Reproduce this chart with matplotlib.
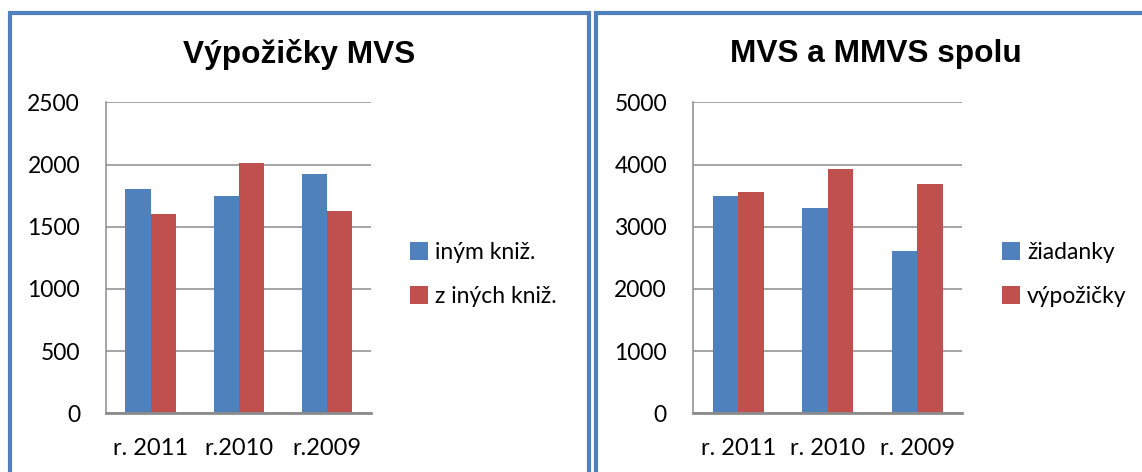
import matplotlib
matplotlib.use("Agg")
import matplotlib.pyplot as plt
from matplotlib.patches import Rectangle
import numpy as np

# Data
left_title = "Výpožičky MVS"
left_categories = ["r. 2011", "r.2010", "r.2009"]
left_series_names = ["iným kniž.", "z iných kniž."]
left_inym = [1800, 1750, 1920]
left_z_inych = [1600, 2010, 1630]
left_yticks = [0, 500, 1000, 1500, 2000, 2500]

right_title = "MVS a MMVS spolu"
right_categories = ["r. 2011", "r. 2010", "r. 2009"]
right_series_names = ["žiadanky", "výpožičky"]
right_ziadanky = [3500, 3300, 2610]
right_vypozicky = [3560, 3920, 3680]
right_yticks = [0, 1000, 2000, 3000, 4000, 5000]

BLUE = "#4F81BD"
RED = "#C0504D"
GRID = "#8C8C8C"
W, H = 1142, 472
TICK_FONT = "Lato"
TITLE_FONT = "Liberation Sans"

fig = plt.figure(figsize=(W / 100, H / 100), dpi=100)


def fx(px):
    return px / W


def fy(py):
    return 1 - py / H


def draw_panel(ax_rect, cats, s1, s2, names, yticks, title, title_x, legend_xy):
    ax = fig.add_axes(ax_rect)
    x = np.arange(len(cats))
    bw = 1 / 3.5
    b1 = ax.bar(x - bw / 2, s1, width=bw, color=BLUE, label=names[0], zorder=3)
    b2 = ax.bar(x + bw / 2, s2, width=bw, color=RED, label=names[1], zorder=3)
    ax.set_xlim(-0.5, len(cats) - 0.5)
    ax.set_ylim(yticks[0], yticks[-1])
    ax.set_yticks(yticks)
    ax.set_yticklabels([str(t) for t in yticks], fontsize=16.5, family=TICK_FONT)
    ax.set_xticks(x)
    ax.set_xticklabels(cats, fontsize=17, family=TICK_FONT)
    ax.tick_params(axis="y", length=0, pad=19)
    ax.tick_params(axis="x", length=0, pad=18)
    ax.yaxis.grid(True, color=GRID, linewidth=1.1, zorder=0)
    for s in ["top", "right"]:
        ax.spines[s].set_visible(False)
    ax.spines["left"].set_color(GRID)
    ax.spines["left"].set_linewidth(1.1)
    ax.spines["bottom"].set_color(GRID)
    ax.spines["bottom"].set_linewidth(2)
    ax.spines["bottom"].set_zorder(4)
    fig.text(fx(title_x), fy(54), title, ha="center", va="center",
             fontsize=22.8, fontweight="bold", family=TITLE_FONT)
    fig.legend(handles=[b1, b2], labels=names, loc="upper left",
               bbox_to_anchor=(fx(legend_xy[0]), fy(legend_xy[1])),
               frameon=False, handlelength=0.8, handleheight=0.8,
               handletextpad=0.3, labelspacing=1.0,
               prop={"family": TICK_FONT, "size": 16.5}, borderaxespad=0,
               borderpad=0)
    return ax


draw_panel([fx(106.4), fy(413.3), fx(371) - fx(106.4), fy(102.3) - fy(413.3)],
           left_categories, left_inym, left_z_inych, left_series_names,
           left_yticks, left_title, 299, (410, 242))
draw_panel([fx(693.3), fy(413.3), fx(962.2) - fx(693.3), fy(102.3) - fy(413.3)],
           right_categories, right_ziadanky, right_vypozicky, right_series_names,
           right_yticks, right_title, 876, (1002, 242))

# Panel borders
for x0, x1 in [(10, 589), (595.5, 1160)]:
    fig.patches.append(Rectangle((fx(x0), fy(490)), fx(x1) - fx(x0), fy(13) - fy(490),
                                 transform=fig.transFigure, fill=False,
                                 edgecolor="#4F81BD", linewidth=3, zorder=10))

fig.savefig("out.png", dpi=100)
